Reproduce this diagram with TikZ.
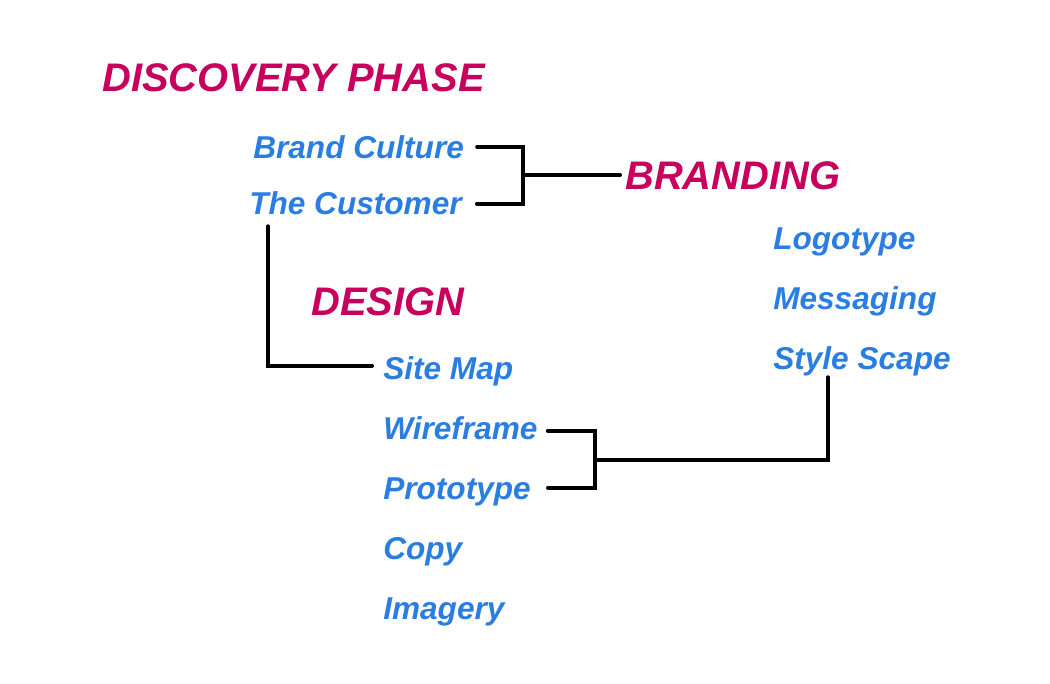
\documentclass[tikz,border=0pt]{standalone}
\usepackage{fontspec}
\setmainfont{Liberation Sans}
\usetikzlibrary{positioning,calc}
\definecolor{phasepink}{RGB}{198,0,92}
\definecolor{itemblue}{RGB}{42,125,225}
\tikzset{
  tree/phase/.style={anchor=base west, inner sep=0pt, text=phasepink, font=\fontsize{29.9}{34}\selectfont\bfseries\itshape},
  tree/item/.style={inner sep=0pt, text=itemblue, text height=17pt, text depth=0pt, font=\fontsize{23.7}{28}\selectfont\bfseries\itshape},
  tree/link/.style={line width=3pt, line cap=round}
}

\begin{document}
\begin{tikzpicture}[x=0.75pt, y=-0.75pt, node distance=27.6pt]
  \useasboundingbox (0,0) rectangle (1050,683);

  \node[tree/phase] (discovery) at (102,91) {DISCOVERY PHASE};
  \node[tree/phase] (branding) at (625,189) {BRANDING};
  \node[tree/phase] (design) at (311,315) {DESIGN};

  \node[tree/item, anchor=base west] (brandc) at (253,158) {Brand Culture};
  \node[tree/item, anchor=base west] (customer) at (249,214) {The Customer};

  \node[tree/item, anchor=base west] (logotype) at (773,249) {Logotype};
  \node[tree/item, below=of logotype.south west, anchor=north west] (messaging) {Messaging};
  \node[tree/item, below=of messaging.south west, anchor=north west] (style) {Style Scape};

  \node[tree/item, anchor=base west] (sitemap) at (383,379) {Site Map};
  \node[tree/item, below=of sitemap.south west, anchor=north west] (wireframe) {Wireframe};
  \node[tree/item, below=of wireframe.south west, anchor=north west] (prototype) {Prototype};
  \node[tree/item, below=of prototype.south west, anchor=north west] (copy) {Copy};
  \node[tree/item, below=of copy.south west, anchor=north west] (imagery) {Imagery};

  % branding bracket
  \coordinate (bjoin) at (523,175);
  \draw[tree/link] ($(brandc.east)+(13,0)$) -| (bjoin) |- ($(customer.east)+(15,1)$);
  \draw[tree/link] (bjoin) -- ($(bjoin -| branding.west)+(-5,0)$);

  % design link
  \draw[tree/link] ($(customer.south west)+(19,12)$) |- ($(sitemap.west)+(-11,-2)$);

  % wireframe / prototype bracket
  \coordinate (djoin) at (595,460);
  \draw[tree/link] ($(wireframe.east)+(10,3)$) -| (djoin) |- ($(prototype.east)+(17,0)$);
  \draw[tree/link] (djoin) -| ($(style.south west)+(55,8)$);
\end{tikzpicture}
\end{document}
